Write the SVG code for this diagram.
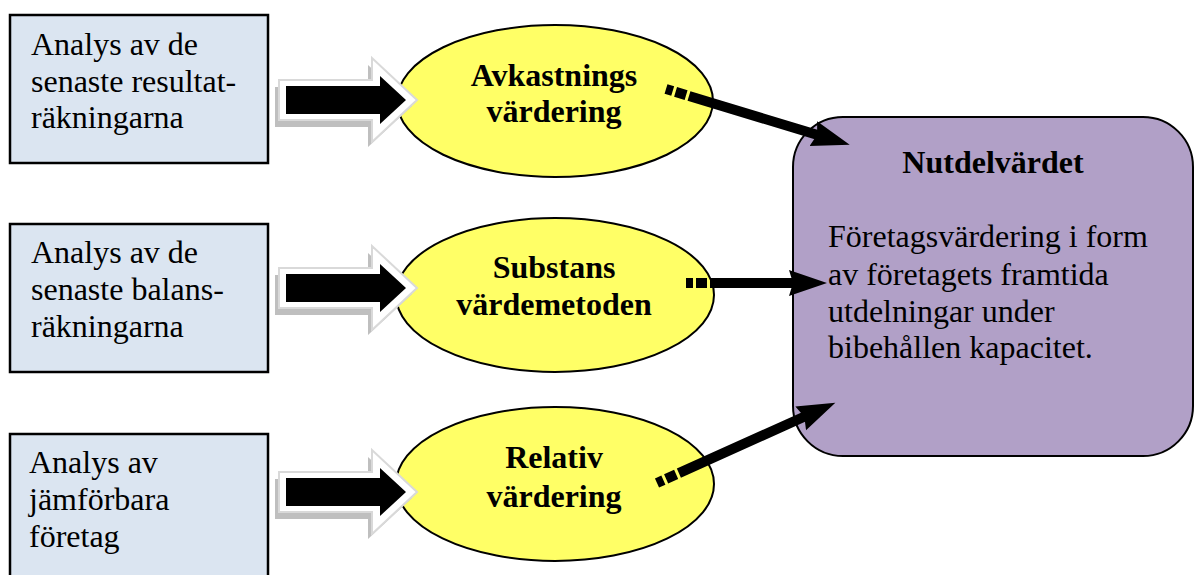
<svg xmlns="http://www.w3.org/2000/svg" width="1194" height="575" viewBox="0 0 1194 575">
<style>
.box{fill:#dbe5f1;stroke:#000;stroke-width:2.5}
.ell{fill:#ffff66;stroke:#000;stroke-width:2}
.res{fill:#b1a0c7;stroke:#000;stroke-width:2}
.t{font-family:"Liberation Serif","Times New Roman",serif;font-size:32px;fill:#000}
.b{font-family:"Liberation Serif","Times New Roman",serif;font-size:32px;font-weight:bold;fill:#000;text-anchor:middle}
.conn{stroke:#000;stroke-width:10;fill:none;stroke-dasharray:7 3 11 3 2000;marker-end:url(#head)}
.bo{fill:#fff;stroke:#d9d9d9;stroke-width:2}
.bs{fill:#bfbfbf}
.bi{fill:#000}
</style>
<defs>
<marker id="head" markerUnits="userSpaceOnUse" viewBox="0 0 40 28" refX="8" refY="14" markerWidth="40" markerHeight="28" orient="auto">
<path d="M0,1 L38,14 L0,27 L4,14 z" fill="#000"/>
</marker>
<g id="blockarrow">
<polygon class="bs" points="275,87 368,87 368,65 412,106 368,147 368,127 275,127"/>
<polygon class="bo" points="279,80 372,80 372,58 417,100 372,142 372,120 279,120"/>
<polygon class="bi" points="286,86 380,86 380,76 406,100 380,124 380,114 286,114"/>
</g>
</defs>

<g id="box1">
<rect class="box" x="10" y="15" width="258" height="148"/>
<text class="t" x="31" y="55">Analys av de</text>
<text class="t" x="31" y="92">senaste resultat-</text>
<text class="t" x="31" y="128">räkningarna</text>
</g>
<g id="box2">
<rect class="box" x="10" y="224" width="258" height="148"/>
<text class="t" x="31" y="263">Analys av de</text>
<text class="t" x="31" y="300">senaste balans-</text>
<text class="t" x="31" y="337">räkningarna</text>
</g>
<g id="box3">
<rect class="box" x="10" y="434" width="258" height="160"/>
<text class="t" x="29" y="473">Analys av</text>
<text class="t" x="29" y="510">jämförbara</text>
<text class="t" x="29" y="547">företag</text>
</g>

<g id="ell1">
<ellipse class="ell" cx="555" cy="101" rx="158" ry="76"/>
<text class="b" x="554" y="86">Avkastnings</text>
<text class="b" x="554" y="122">värdering</text>
</g>
<g id="ell2">
<ellipse class="ell" cx="555" cy="295" rx="159" ry="77"/>
<text class="b" x="554" y="278">Substans</text>
<text class="b" x="554" y="315">värdemetoden</text>
</g>
<g id="ell3">
<ellipse class="ell" cx="555" cy="484" rx="159" ry="77"/>
<text class="b" x="554" y="468">Relativ</text>
<text class="b" x="554" y="507">värdering</text>
</g>

<g id="result">
<rect class="res" x="793" y="117" width="400" height="339" rx="50" ry="50"/>
<text class="b" x="993" y="173">Nutdelvärdet</text>
<text class="t" x="828" y="247">Företagsvärdering i form</text>
<text class="t" x="828" y="285">av företagets framtida</text>
<text class="t" x="828" y="322">utdelningar under</text>
<text class="t" x="828" y="358">bibehållen kapacitet.</text>
</g>

<g id="blockarrows">
<use href="#blockarrow"/>
<use href="#blockarrow" y="188"/>
<use href="#blockarrow" y="392"/>
</g>

<g id="connectors">
<line class="conn" x1="666" y1="89" x2="821" y2="136"/>
<line class="conn" x1="686" y1="283" x2="797" y2="283"/>
<line class="conn" x1="657" y1="483" x2="808" y2="415"/>
</g>
</svg>
